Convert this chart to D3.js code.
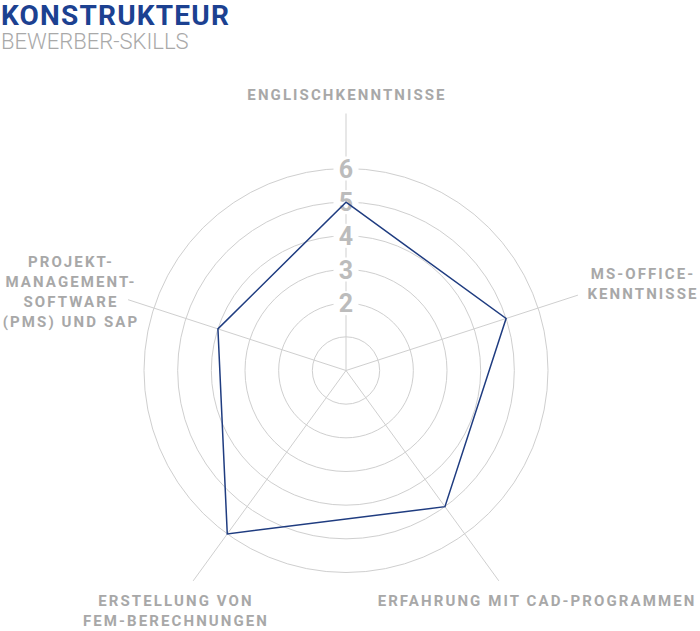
<!DOCTYPE html>
<html>
<head>
<meta charset="utf-8">
<script src="https://cdn.jsdelivr.net/npm/d3@7"></script>
<style>
	body { margin: 0; background: #fff; }
	svg { display: block; font-family: Roboto, "Noto Sans", sans-serif; }
</style>
</head>
<body>
<svg width="700" height="631"></svg>
<script>
"use strict";

var title = "KONSTRUKTEUR";
var subtitle = "BEWERBER-SKILLS";
var categories = [
	"ENGLISCHKENNTNISSE",
	"MS-OFFICE-\nKENNTNISSE",
	"ERFAHRUNG MIT CAD-PROGRAMMEN",
	"ERSTELLUNG VON\nFEM-BERECHNUNGEN",
	"PROJEKT-\nMANAGEMENT-\nSOFTWARE\n(PMS) UND SAP"
];
var values = [5, 5, 5, 6, 4];
var rings = [1, 2, 3, 4, 5, 6];
var tickLabels = [2, 3, 4, 5, 6];

// where each category label sits, relative to the chart centre
var labelOffsets = [[0, -271], [296, -92], [190, 235], [-171, 235], [-276, -104]];

var cx = 346, cy = 370.5;
var svg = d3.select('svg');

var r = d3.scaleLinear().domain([0, 6]).range([0, 202]);
var angle = d3.scaleLinear().domain([0, categories.length]).range([0, 2 * Math.PI]);

function dir(i) {
	var a = angle(i);
	return [Math.sin(a), -Math.cos(a)];
}

svg.append('text')
	.attr('x', 1).attr('y', 24.5)
	.attr('font-size', 28).attr('font-weight', 700)
	.attr('letter-spacing', 1.2)
	.attr('fill', '#1c4191')
	.text(title);

svg.append('text')
	.attr('x', 1).attr('y', 49)
	.attr('font-size', 22).attr('font-weight', 300)
	.attr('fill', '#a9a9a9')
	.text(subtitle);

var g = svg.append('g').attr('transform', 'translate(' + cx + ',' + cy + ')');

g.selectAll('circle.ring').data(rings).enter().append('circle')
	.attr('class', 'ring')
	.attr('r', function(d) { return r(d); })
	.attr('fill', 'none')
	.attr('stroke', '#cfcfcf')
	.attr('stroke-width', 1);

// category labels first, so the axis lines can stop short of them
var labels = g.selectAll('g.label').data(categories).enter().append('g')
	.attr('class', 'label');

labels.each(function(d, i) {
	var lines = d.split('\n');
	var sel = d3.select(this);
	lines.forEach(function(line, k) {
		sel.append('text')
			.attr('x', labelOffsets[i][0] + 1)
			.attr('y', labelOffsets[i][1] + k * 20.3)
			.attr('text-anchor', 'middle')
			.attr('font-size', 15)
			.attr('font-weight', 700)
			.attr('letter-spacing', 2.1)
			.attr('fill', '#a8a8a8')
			.text(line);
	});
});

function hitRadius(i) {
	var u = dir(i);
	var best = 260;
	d3.select(labels.nodes()[i]).selectAll('text').each(function() {
		var b = this.getBBox();
		var t0 = -Infinity, t1 = Infinity;
		var lo = [b.x, b.y], hi = [b.x + b.width, b.y + b.height];
		for (var k = 0; k < 2; k++) {
			if (Math.abs(u[k]) < 1e-9) {
				if (lo[k] > 0 || hi[k] < 0) { t0 = Infinity; }
				continue;
			}
			var a = lo[k] / u[k], c = hi[k] / u[k];
			t0 = Math.max(t0, Math.min(a, c));
			t1 = Math.min(t1, Math.max(a, c));
		}
		if (t0 <= t1 && t0 > 0) best = Math.min(best, t0 - 10);
	});
	return best;
}

var axisEnds = categories.map(function(d, i) { return hitRadius(i); });

g.selectAll('line.axis').data(categories).enter().insert('line', 'g.label')
	.attr('class', 'axis')
	.attr('x1', 0).attr('y1', 0)
	.attr('x2', function(d, i) { return dir(i)[0] * axisEnds[i]; })
	.attr('y2', function(d, i) { return dir(i)[1] * axisEnds[i]; })
	.attr('stroke', '#cfcfcf')
	.attr('stroke-width', 1);

var ticks = g.selectAll('g.tick').data(tickLabels).enter().append('g')
	.attr('class', 'tick')
	.attr('transform', function(d) { return 'translate(0,' + (-r(d)) + ')'; });

ticks.append('rect')
	.attr('x', -12.5).attr('y', -12)
	.attr('width', 25).attr('height', 24)
	.attr('fill', '#fff');

ticks.append('text')
	.attr('text-anchor', 'middle')
	.attr('dy', '0.36em')
	.attr('font-size', 25)
	.attr('font-weight', 700)
	.attr('fill', '#bcbcbc')
	.text(function(d) { return d; });

var radar = d3.lineRadial()
	.angle(function(d, i) { return angle(i); })
	.radius(function(d) { return r(d); })
	.curve(d3.curveLinearClosed);

g.append('path')
	.datum(values)
	.attr('d', radar)
	.attr('fill', 'none')
	.attr('stroke', '#1f3c80')
	.attr('stroke-width', 1.5);
</script>
</body>
</html>
